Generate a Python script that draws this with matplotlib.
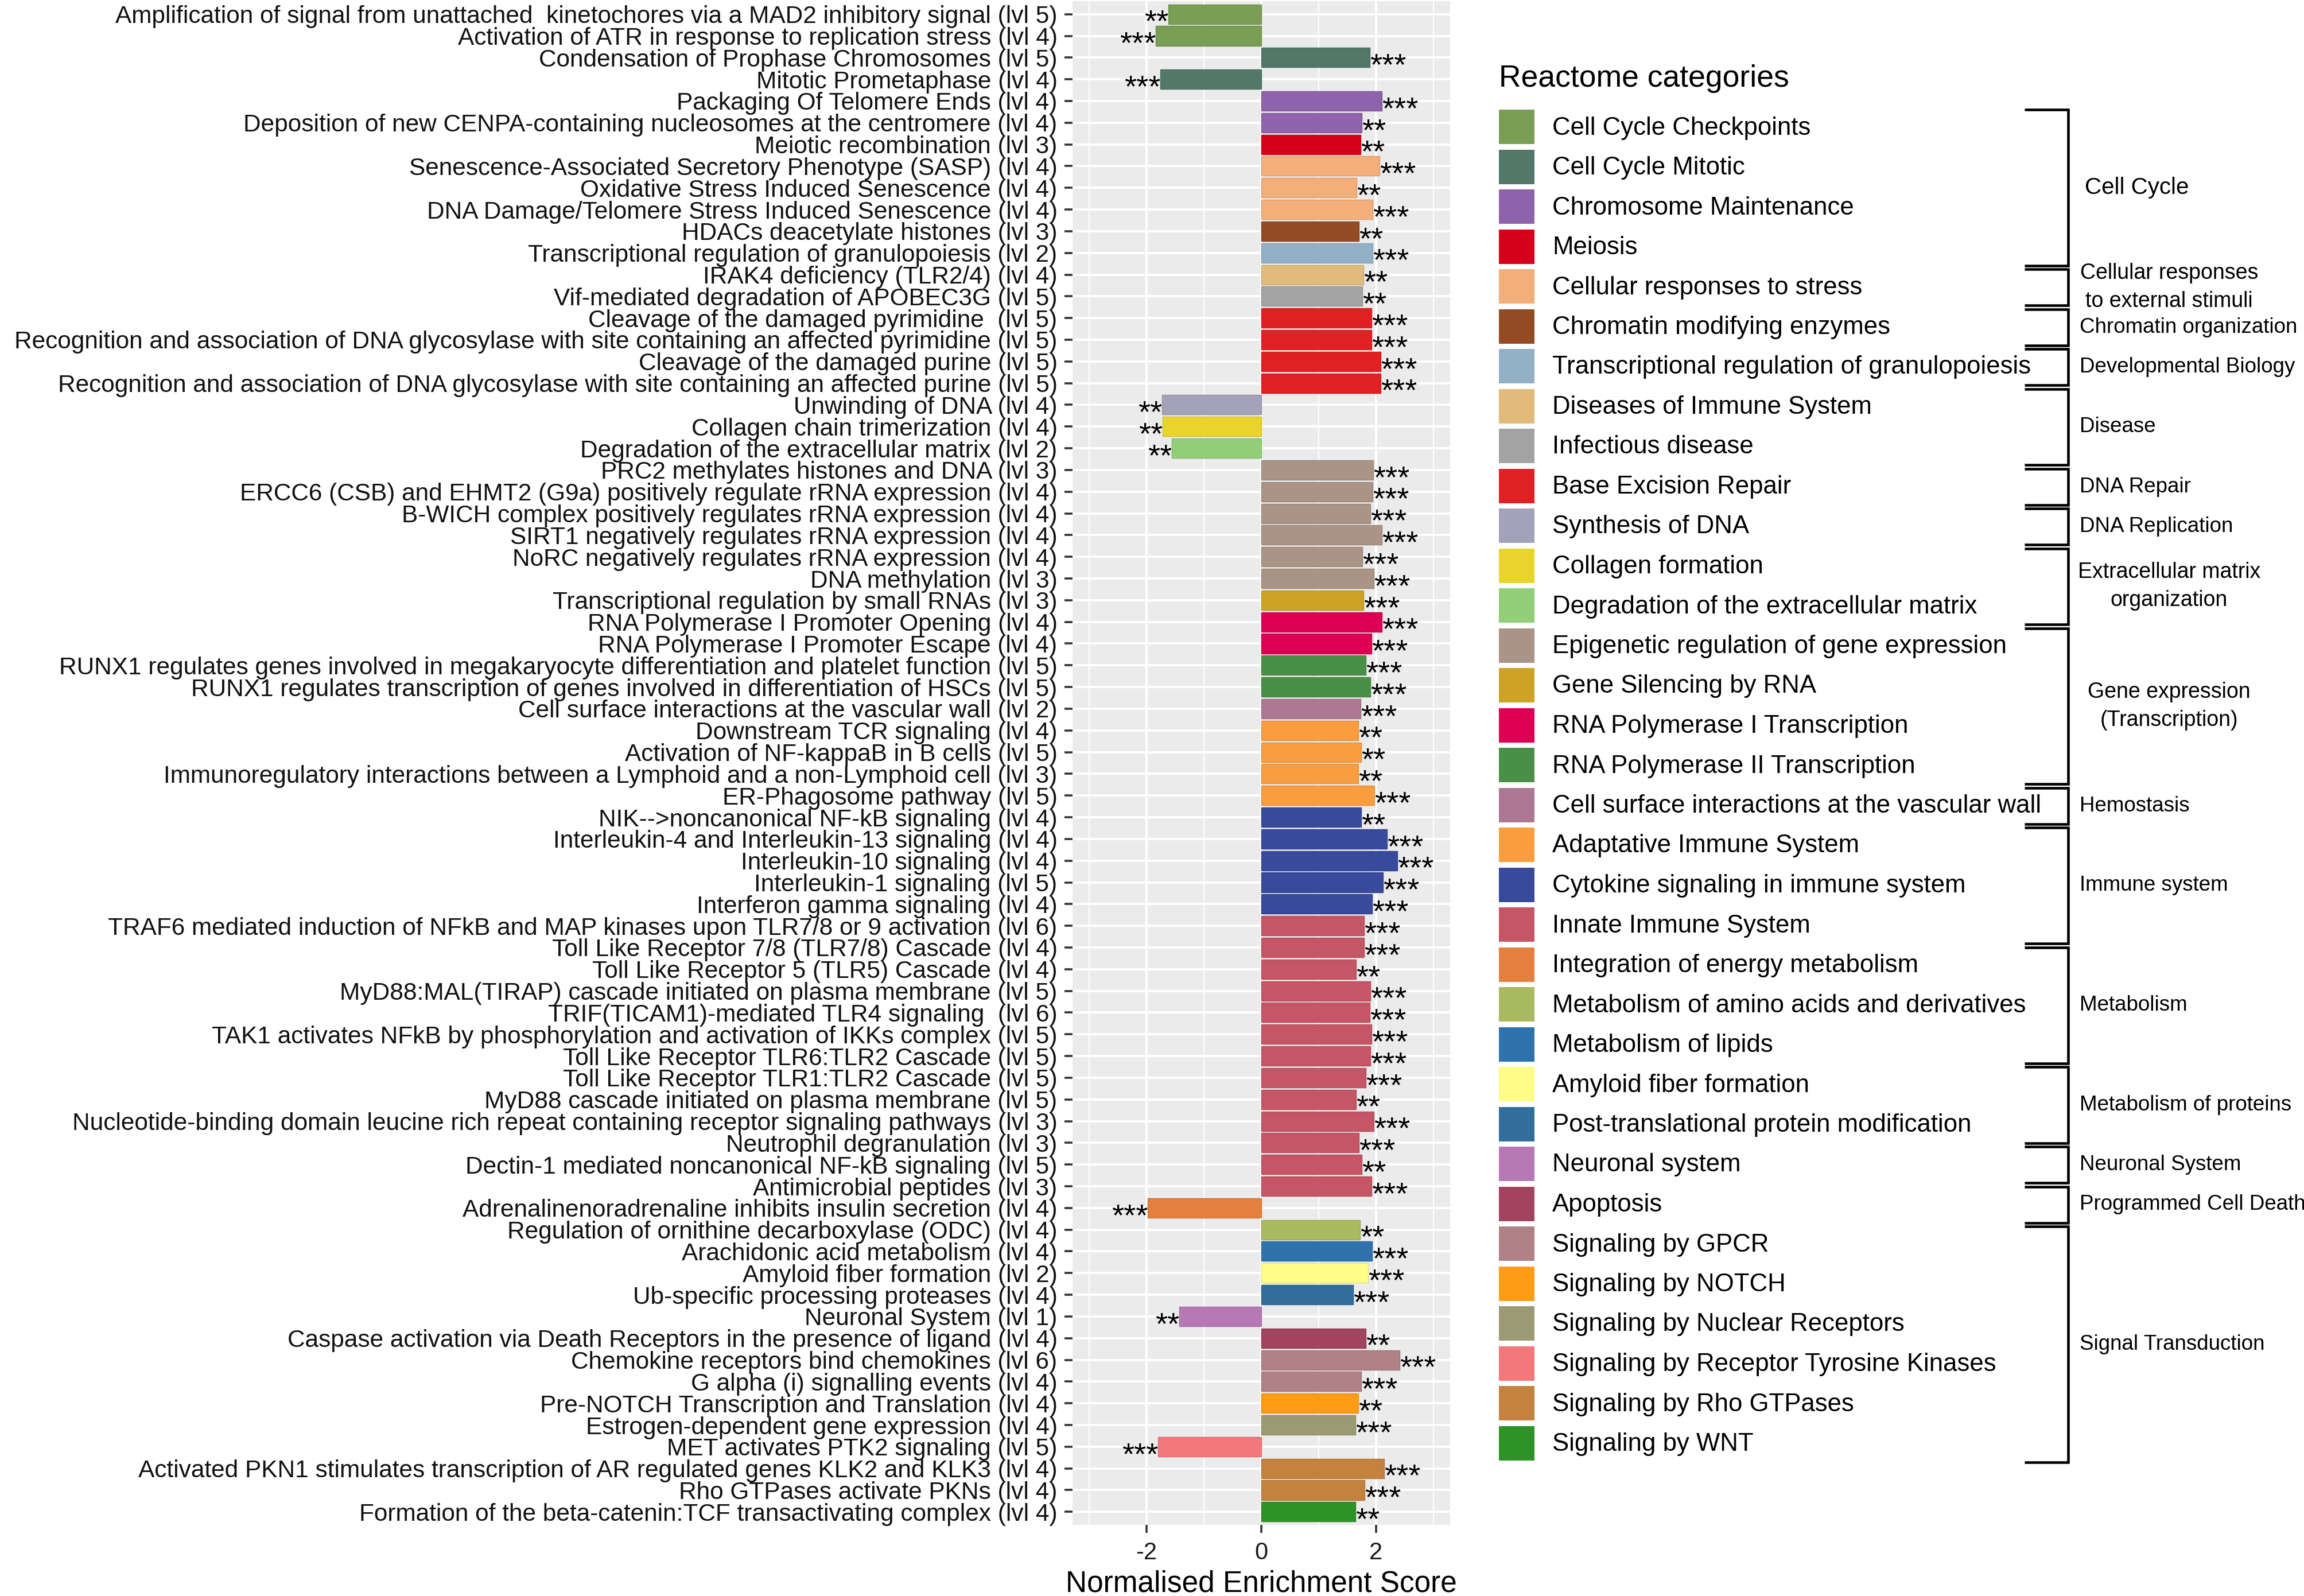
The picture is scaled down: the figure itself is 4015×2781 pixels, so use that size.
import matplotlib
matplotlib.use("Agg")
import matplotlib.pyplot as plt
import matplotlib.transforms as mtransforms
from matplotlib.patches import Rectangle
from matplotlib.colors import to_rgb
import numpy as np

plt.rcParams['font.family'] = ['Liberation Sans', 'DejaVu Sans']
plt.rcParams['axes.unicode_minus'] = False

# ---------------- data ----------------
pathways = [
    "Amplification of signal from unattached  kinetochores via a MAD2 inhibitory signal",
    "Activation of ATR in response to replication stress",
    "Condensation of Prophase Chromosomes",
    "Mitotic Prometaphase",
    "Packaging Of Telomere Ends",
    "Deposition of new CENPA-containing nucleosomes at the centromere",
    "Meiotic recombination",
    "Senescence-Associated Secretory Phenotype (SASP)",
    "Oxidative Stress Induced Senescence",
    "DNA Damage/Telomere Stress Induced Senescence",
    "HDACs deacetylate histones",
    "Transcriptional regulation of granulopoiesis",
    "IRAK4 deficiency (TLR2/4)",
    "Vif-mediated degradation of APOBEC3G",
    "Cleavage of the damaged pyrimidine ",
    "Recognition and association of DNA glycosylase with site containing an affected pyrimidine",
    "Cleavage of the damaged purine",
    "Recognition and association of DNA glycosylase with site containing an affected purine",
    "Unwinding of DNA",
    "Collagen chain trimerization",
    "Degradation of the extracellular matrix",
    "PRC2 methylates histones and DNA",
    "ERCC6 (CSB) and EHMT2 (G9a) positively regulate rRNA expression",
    "B-WICH complex positively regulates rRNA expression",
    "SIRT1 negatively regulates rRNA expression",
    "NoRC negatively regulates rRNA expression",
    "DNA methylation",
    "Transcriptional regulation by small RNAs",
    "RNA Polymerase I Promoter Opening",
    "RNA Polymerase I Promoter Escape",
    "RUNX1 regulates genes involved in megakaryocyte differentiation and platelet function",
    "RUNX1 regulates transcription of genes involved in differentiation of HSCs",
    "Cell surface interactions at the vascular wall",
    "Downstream TCR signaling",
    "Activation of NF-kappaB in B cells",
    "Immunoregulatory interactions between a Lymphoid and a non-Lymphoid cell",
    "ER-Phagosome pathway",
    "NIK-->noncanonical NF-kB signaling",
    "Interleukin-4 and Interleukin-13 signaling",
    "Interleukin-10 signaling",
    "Interleukin-1 signaling",
    "Interferon gamma signaling",
    "TRAF6 mediated induction of NFkB and MAP kinases upon TLR7/8 or 9 activation",
    "Toll Like Receptor 7/8 (TLR7/8) Cascade",
    "Toll Like Receptor 5 (TLR5) Cascade",
    "MyD88:MAL(TIRAP) cascade initiated on plasma membrane",
    "TRIF(TICAM1)-mediated TLR4 signaling ",
    "TAK1 activates NFkB by phosphorylation and activation of IKKs complex",
    "Toll Like Receptor TLR6:TLR2 Cascade",
    "Toll Like Receptor TLR1:TLR2 Cascade",
    "MyD88 cascade initiated on plasma membrane",
    "Nucleotide-binding domain leucine rich repeat containing receptor signaling pathways",
    "Neutrophil degranulation",
    "Dectin-1 mediated noncanonical NF-kB signaling",
    "Antimicrobial peptides",
    "Adrenalinenoradrenaline inhibits insulin secretion",
    "Regulation of ornithine decarboxylase (ODC)",
    "Arachidonic acid metabolism",
    "Amyloid fiber formation",
    "Ub-specific processing proteases",
    "Neuronal System",
    "Caspase activation via Death Receptors in the presence of ligand",
    "Chemokine receptors bind chemokines",
    "G alpha (i) signalling events",
    "Pre-NOTCH Transcription and Translation",
    "Estrogen-dependent gene expression",
    "MET activates PTK2 signaling",
    "Activated PKN1 stimulates transcription of AR regulated genes KLK2 and KLK3",
    "Rho GTPases activate PKNs",
    "Formation of the beta-catenin:TCF transactivating complex",
]

levels = [5, 4, 5, 4, 4, 4, 3, 4, 4, 4, 3, 2, 4, 5, 5, 5, 5, 5, 4, 4,
          2, 3, 4, 4, 4, 4, 3, 3, 4, 4, 5, 5, 2, 4, 5, 3, 5, 4, 4, 4,
          5, 4, 6, 4, 4, 5, 6, 5, 5, 5, 5, 3, 3, 5, 3, 4, 4, 4, 2, 4,
          1, 4, 6, 4, 4, 4, 5, 4, 4, 4]

nes = [-1.62, -1.84, 1.89, -1.76, 2.10, 1.75, 1.73, 2.06, 1.66, 1.94,
       1.70, 1.94, 1.78, 1.76, 1.92, 1.92, 2.08, 2.08, -1.73, -1.72,
       -1.56, 1.95, 1.94, 1.90, 2.10, 1.76, 1.96, 1.78, 2.10, 1.92,
       1.82, 1.90, 1.73, 1.69, 1.74, 1.69, 1.97, 1.74, 2.19, 2.37,
       2.12, 1.93, 1.79, 1.79, 1.65, 1.90, 1.89, 1.92, 1.90, 1.82,
       1.65, 1.96, 1.70, 1.75, 1.92, -1.98, 1.72, 1.93, 1.86, 1.60,
       -1.43, 1.82, 2.41, 1.74, 1.69, 1.64, -1.80, 2.14, 1.80, 1.64]

signif = ["**", "***", "***", "***", "***", "**", "**", "***", "**", "***",
          "**", "***", "**", "**", "***", "***", "***", "***", "**", "**",
          "**", "***", "***", "***", "***", "***", "***", "***", "***", "***",
          "***", "***", "***", "**", "**", "**", "***", "**", "***", "***",
          "***", "***", "***", "***", "**", "***", "***", "***", "***", "***",
          "**", "***", "***", "**", "***", "***", "**", "***", "***", "***",
          "**", "**", "***", "***", "**", "***", "***", "***", "***", "**"]

pathway_category = [
    "Cell Cycle Checkpoints", "Cell Cycle Checkpoints",
    "Cell Cycle Mitotic", "Cell Cycle Mitotic",
    "Chromosome Maintenance", "Chromosome Maintenance",
    "Meiosis",
    "Cellular responses to stress", "Cellular responses to stress", "Cellular responses to stress",
    "Chromatin modifying enzymes",
    "Transcriptional regulation of granulopoiesis",
    "Diseases of Immune System",
    "Infectious disease",
    "Base Excision Repair", "Base Excision Repair", "Base Excision Repair", "Base Excision Repair",
    "Synthesis of DNA",
    "Collagen formation",
    "Degradation of the extracellular matrix",
    "Epigenetic regulation of gene expression", "Epigenetic regulation of gene expression",
    "Epigenetic regulation of gene expression", "Epigenetic regulation of gene expression",
    "Epigenetic regulation of gene expression", "Epigenetic regulation of gene expression",
    "Gene Silencing by RNA",
    "RNA Polymerase I Transcription", "RNA Polymerase I Transcription",
    "RNA Polymerase II Transcription", "RNA Polymerase II Transcription",
    "Cell surface interactions at the vascular wall",
    "Adaptative Immune System", "Adaptative Immune System", "Adaptative Immune System",
    "Adaptative Immune System",
    "Cytokine signaling in immune system", "Cytokine signaling in immune system",
    "Cytokine signaling in immune system", "Cytokine signaling in immune system",
    "Cytokine signaling in immune system",
    "Innate Immune System", "Innate Immune System", "Innate Immune System",
    "Innate Immune System", "Innate Immune System", "Innate Immune System",
    "Innate Immune System", "Innate Immune System", "Innate Immune System",
    "Innate Immune System", "Innate Immune System", "Innate Immune System",
    "Innate Immune System",
    "Integration of energy metabolism",
    "Metabolism of amino acids and derivatives",
    "Metabolism of lipids",
    "Amyloid fiber formation",
    "Post-translational protein modification",
    "Neuronal system",
    "Apoptosis",
    "Signaling by GPCR", "Signaling by GPCR",
    "Signaling by NOTCH",
    "Signaling by Nuclear Receptors",
    "Signaling by Receptor Tyrosine Kinases",
    "Signaling by Rho GTPases", "Signaling by Rho GTPases",
    "Signaling by WNT",
]

categories = [
    "Cell Cycle Checkpoints", "Cell Cycle Mitotic", "Chromosome Maintenance", "Meiosis",
    "Cellular responses to stress", "Chromatin modifying enzymes",
    "Transcriptional regulation of granulopoiesis", "Diseases of Immune System",
    "Infectious disease", "Base Excision Repair", "Synthesis of DNA", "Collagen formation",
    "Degradation of the extracellular matrix", "Epigenetic regulation of gene expression",
    "Gene Silencing by RNA", "RNA Polymerase I Transcription", "RNA Polymerase II Transcription",
    "Cell surface interactions at the vascular wall", "Adaptative Immune System",
    "Cytokine signaling in immune system", "Innate Immune System",
    "Integration of energy metabolism", "Metabolism of amino acids and derivatives",
    "Metabolism of lipids", "Amyloid fiber formation", "Post-translational protein modification",
    "Neuronal system", "Apoptosis", "Signaling by GPCR", "Signaling by NOTCH",
    "Signaling by Nuclear Receptors", "Signaling by Receptor Tyrosine Kinases",
    "Signaling by Rho GTPases", "Signaling by WNT",
]

category_colors = [
    "#7A9E54", "#52786A", "#8E63AC", "#D7001B",
    "#F3AF7A", "#934B23",
    "#92B1C6", "#E2BA7A",
    "#A3A3A3", "#E02124", "#A3A2BA", "#E8D42B",
    "#93CE79", "#AA9485",
    "#CDA325", "#DE0052", "#4A8F48",
    "#AD7893", "#F99D3F",
    "#374A9B", "#C65566",
    "#E57F3F", "#A9BA60",
    "#2F73AE", "#FDFD88", "#316E9B",
    "#B679B5", "#A2435F", "#B08285", "#FF9C15",
    "#9C9A74", "#F3777B",
    "#C3833F", "#2E9326",
]

group_names = [
    "Cell Cycle", "Cellular responses\nto external stimuli", "Chromatin organization",
    "Developmental Biology", "Disease", "DNA Repair", "DNA Replication",
    "Extracellular matrix\norganization", "Gene expression\n(Transcription)", "Hemostasis",
    "Immune system", "Metabolism", "Metabolism of proteins", "Neuronal System",
    "Programmed Cell Death", "Signal Transduction",
]
group_sizes = [4, 1, 1, 1, 2, 1, 1, 2, 4, 1, 3, 3, 2, 1, 1, 6]

# ---------------- figure ----------------
W, H = 4016, 2781
DPI = 100
fig = plt.figure(figsize=(W / DPI, H / DPI), dpi=DPI)
fig.patch.set_facecolor("white")

P_LEFT, P_RIGHT, P_TOP, P_BOTTOM = 1869, 2527, 2, 2657
ax = fig.add_axes([P_LEFT / W, 1 - P_BOTTOM / H, (P_RIGHT - P_LEFT) / W, (P_BOTTOM - P_TOP) / H])
ax.set_facecolor("#EBEBEB")
for s in ax.spines.values():
    s.set_visible(False)

cmap = dict(zip(categories, category_colors))
bar_colors = [cmap[c] for c in pathway_category]
edge_colors = [tuple(0.9 * v for v in to_rgb(c)) for c in bar_colors]
labels = [f"{p} (lvl {l})" for p, l in zip(pathways, levels)]
y = np.arange(len(pathways))

ax.barh(y, nes, height=0.9, color=bar_colors, edgecolor=edge_colors, linewidth=1.0, zorder=3)

ax.set_xlim(-3.29, 3.29)
ax.set_ylim(len(pathways) - 1 + 0.6, -0.6)
ax.set_xticks([-2, 0, 2])
ax.set_xticks([-3, -1, 1, 3], minor=True)
ax.set_yticks(y)
ax.set_yticklabels(labels, fontsize=30.5, color="#111111")
ax.tick_params(axis="y", which="major", length=10, width=2.6, color="#333333", pad=9)
ax.tick_params(axis="x", which="major", length=10, width=2.6, color="#333333", pad=11,
               labelsize=30, labelcolor="#1A1A1A")
ax.tick_params(axis="x", which="minor", length=0)
ax.set_axisbelow(True)
ax.grid(which="major", color="white", linewidth=2.9)
ax.grid(which="minor", axis="x", color="white", linewidth=1.5)
ax.set_xlabel("Normalised Enrichment Score", fontsize=37, color="black", labelpad=7)

STAR_FS = 39
star_tr = mtransforms.offset_copy(ax.transData, fig=fig, x=0, y=-0.55 * STAR_FS, units="points")
for yi, v, s in zip(y, nes, signif):
    ax.text(v, yi, s, ha="left" if v > 0 else "right", va="baseline",
            fontsize=STAR_FS, color="black", transform=star_tr, zorder=4)

# ---------------- legend + brackets (overlay in pixel coords) ----------------
ov = fig.add_axes([0, 0, 1, 1])
ov.set_xlim(0, W)
ov.set_ylim(H, 0)
ov.axis("off")

ov.text(2612, 137, "Reactome categories", fontsize=38.5, ha="left", va="center", color="black")
KEY_Y0, PITCH = 221, 69.5
centers = [KEY_Y0 + PITCH * i for i in range(len(categories))]
for c, col, name in zip(centers, category_colors, categories):
    ov.add_patch(Rectangle((2612, c - 30), 62, 60, facecolor=col, edgecolor="none"))
    ov.text(2705, c + 2, name, fontsize=31.5, ha="left", va="center", color="black")

start = 0
for gname, gsize in zip(group_names, group_sizes):
    top = centers[start] - 30
    bot = centers[start + gsize - 1] + 33
    ov.plot([3528, 3604, 3604, 3528], [top, top, bot, bot], color="black", lw=3.3,
            solid_joinstyle="miter", solid_capstyle="butt")
    mid = (top + bot) / 2
    if "\n" in gname:
        ov.text(3780, mid, gname, fontsize=27, ha="center", va="center",
                multialignment="center", linespacing=1.45, color="black")
    elif gname == "Cell Cycle":
        ov.text(3633, mid, gname, fontsize=29, ha="left", va="center", color="black")
    else:
        ov.text(3624, mid, gname, fontsize=26.5, ha="left", va="center", color="black")
    start += gsize

fig.savefig("out.png", dpi=DPI, facecolor="white")
